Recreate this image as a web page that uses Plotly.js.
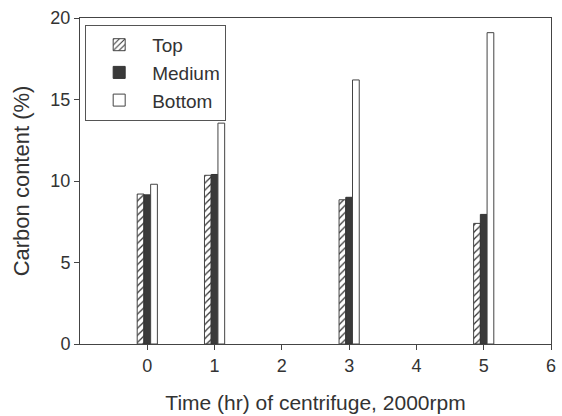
<!DOCTYPE html>
<html>
<head>
<meta charset="utf-8">
<script src="https://cdn.plot.ly/plotly-3.0.1.min.js"></script>
<style>html,body{margin:0;padding:0;background:#fff;}#chart{width:562px;height:416px;}</style>
</head>
<body>
<div id="chart"></div>
<script>
var times = [0, 1, 3, 5];
var topVals = [9.2, 10.35, 8.85, 7.4];
var mediumVals = [9.15, 10.4, 9.0, 7.95];
var bottomVals = [9.8, 13.55, 16.2, 19.1];
var seriesNames = ['Top', 'Medium', 'Bottom'];
var xTicks = [0, 1, 2, 3, 4, 5, 6];
var yTicks = [0, 5, 10, 15, 20];

var lineCol = '#444';
var fam = 'Liberation Sans, Arial, sans-serif';
var txt = '#333';

var traces = [
  {type: 'bar', x: times, y: topVals, name: seriesNames[0],
   marker: {color: '#fff', line: {color: lineCol, width: 1},
            pattern: {shape: '/', fgcolor: '#333', bgcolor: '#fff', size: 5, solidity: 0.25}}},
  {type: 'bar', x: times, y: mediumVals, name: seriesNames[1],
   marker: {color: '#3a3a3a', line: {color: '#333', width: 1}}},
  {type: 'bar', x: times, y: bottomVals, name: seriesNames[2],
   marker: {color: '#fff', line: {color: lineCol, width: 1}}}
];

var layout = {
  width: 562, height: 416,
  margin: {l: 80, r: 11, t: 18, b: 72},
  paper_bgcolor: '#fff', plot_bgcolor: '#fff',
  barmode: 'group', bargap: 0.7, bargroupgap: 0,
  font: {family: fam, color: txt},
  showlegend: true,
  legend: {x: 0.011, y: 0.979, xanchor: 'left', yanchor: 'top',
           bordercolor: '#555', borderwidth: 1, bgcolor: '#fff',
           font: {family: fam, size: 19, color: txt},
           itemwidth: 56},
  xaxis: {range: [-1, 6], tickvals: xTicks, ticktext: xTicks.map(String),
          showgrid: false, zeroline: false, showline: true, linecolor: lineCol, linewidth: 1,
          mirror: true, ticks: 'outside', ticklen: 5, tickcolor: lineCol,
          tickfont: {family: fam, size: 18, color: txt},
          title: {text: 'Time (hr) of centrifuge, 2000rpm', font: {family: fam, size: 21, color: txt}, standoff: 20}},
  yaxis: {range: [0, 20], tickvals: yTicks, ticktext: yTicks.map(String),
          showgrid: false, zeroline: false, showline: true, linecolor: lineCol, linewidth: 1,
          mirror: true, ticks: 'outside', ticklen: 5, tickcolor: lineCol,
          tickfont: {family: fam, size: 18, color: txt},
          title: {text: 'Carbon content (%)', font: {family: fam, size: 22, color: txt}, standoff: 14}}
};

Plotly.newPlot('chart', traces, layout, {staticPlot: true, displayModeBar: false});
</script>
</body>
</html>
